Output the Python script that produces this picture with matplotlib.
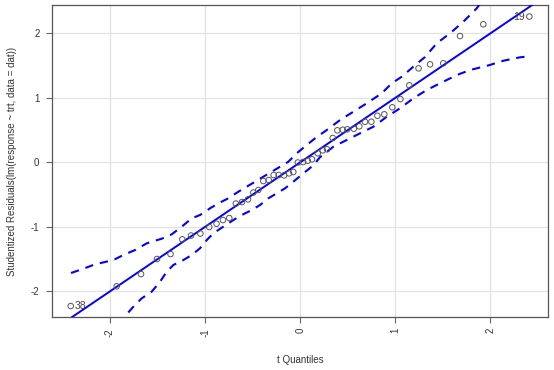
import matplotlib
matplotlib.use("Agg")
import matplotlib.pyplot as plt

plt.rcParams['font.family'] = ['Liberation Sans', 'DejaVu Sans']

# theoretical t quantiles
t_quant = [-2.413, -1.930, -1.674, -1.506, -1.364, -1.240, -1.148, -1.050, -0.957, -0.880,
           -0.812, -0.746, -0.677, -0.612, -0.549, -0.493, -0.441, -0.388, -0.331, -0.279,
           -0.226, -0.170, -0.118, -0.073, -0.025, 0.030, 0.079, 0.124, 0.184, 0.237,
           0.282, 0.342, 0.390, 0.447, 0.495, 0.563, 0.621, 0.681, 0.748, 0.811,
           0.884, 0.968, 1.053, 1.147, 1.244, 1.365, 1.504, 1.680, 1.925, 2.409]
# studentized residuals (sorted)
stud_res = [-2.228, -1.922, -1.732, -1.499, -1.422, -1.194, -1.135, -1.104, -1.003, -0.952,
            -0.895, -0.864, -0.639, -0.616, -0.574, -0.468, -0.429, -0.290, -0.274, -0.197,
            -0.197, -0.202, -0.171, -0.150, -0.003, 0.005, 0.025, 0.047, 0.140, 0.186,
            0.202, 0.377, 0.496, 0.505, 0.512, 0.521, 0.558, 0.629, 0.629, 0.722,
            0.744, 0.853, 0.981, 1.194, 1.457, 1.519, 1.535, 1.958, 2.140, 2.260]

# reference line
line_intercept = 0.0
line_slope = 1.0

# confidence envelope
upper_x = [-2.410, -2.298, -2.176, -2.087, -1.965, -1.860, -1.737, -1.614, -1.456, -1.351,
           -1.246, -1.141, -1.054, -0.948, -0.861, -0.756, -0.651, -0.563, -0.475, -0.388,
           -0.300, -0.212, -0.125, -0.037, 0.068, 0.156, 0.279, 0.419, 0.558, 0.699,
           0.857, 0.962, 1.067, 1.189, 1.312, 1.435, 1.575, 1.715, 1.856, 1.920]
upper_y = [-1.716, -1.659, -1.592, -1.557, -1.515, -1.437, -1.360, -1.256, -1.184, -1.116,
           -0.998, -0.868, -0.817, -0.713, -0.636, -0.558, -0.456, -0.378, -0.301, -0.223,
           -0.146, -0.068, 0.009, 0.140, 0.268, 0.372, 0.501, 0.656, 0.784, 0.915,
           1.070, 1.225, 1.327, 1.482, 1.633, 1.845, 2.000, 2.180, 2.388, 2.520]
lower_x = [-1.900, -1.850, -1.755, -1.667, -1.562, -1.474, -1.404, -1.334, -1.229, -1.141,
           -1.054, -0.983, -0.914, -0.809, -0.703, -0.615, -0.510, -0.423, -0.335, -0.247,
           -0.160, -0.073, 0.033, 0.135, 0.208, 0.348, 0.489, 0.629, 0.769, 0.910,
           1.049, 1.189, 1.330, 1.470, 1.646, 1.785, 1.975, 2.136, 2.311, 2.409]
lower_y = [-2.520, -2.398, -2.239, -2.109, -2.006, -1.851, -1.696, -1.592, -1.515, -1.437,
           -1.333, -1.205, -1.101, -0.998, -0.895, -0.817, -0.740, -0.662, -0.558, -0.481,
           -0.403, -0.301, -0.171, -0.050, 0.080, 0.242, 0.346, 0.450, 0.552, 0.707,
           0.837, 0.992, 1.121, 1.225, 1.353, 1.431, 1.501, 1.575, 1.628, 1.643]

point_labels = ["38", "19"]
ticks = [-2, -1, 0, 1, 2]
tick_labels = ["-2", "-1", "0", "1", "2"]

W, H = 554, 370
fig = plt.figure(figsize=(W / 100, H / 100), dpi=100)
ax = fig.add_axes([52 / W, 1 - 317 / H, 496 / W, 312 / H])
ax.set_xlim(-2.61, 2.605)
ax.set_ylim(-2.398, 2.439)

for t in ticks:
    ax.axvline(t, color='#e2e2e2', lw=0.9, zorder=0)
    ax.axhline(t, color='#e2e2e2', lw=0.9, zorder=0)

xs = [ax.get_xlim()[0], ax.get_xlim()[1]]
ax.plot(xs, [line_intercept + line_slope * v for v in xs], color='#0000ff', lw=1.4, zorder=3)
ax.plot(upper_x, upper_y, color='#0000ff', lw=1.5, ls=(0, (4, 3.3)), zorder=3)
ax.plot(lower_x, lower_y, color='#0000ff', lw=1.5, ls=(0, (4, 3.3)), zorder=3)

ax.scatter(t_quant, stud_res, s=16, facecolors='none', edgecolors='#555555',
           linewidths=0.7, zorder=4)

ax.annotate(point_labels[0], (t_quant[0], stud_res[0]), xytext=(3, 0),
            textcoords='offset points', ha='left', va='center', fontsize=7.5, color='#444444')
ax.annotate(point_labels[1], (t_quant[-1], stud_res[-1]), xytext=(-3, 0),
            textcoords='offset points', ha='right', va='center', fontsize=7.5, color='#444444')

ax.set_xticks(ticks)
ax.set_xticklabels(tick_labels, rotation=90)
ax.set_yticks(ticks)
ax.set_yticklabels(tick_labels)
ax.tick_params(axis='both', length=4, width=0.8, color='#666666', labelsize=7,
               labelcolor='#333333')
ax.tick_params(axis='y', pad=5)
ax.tick_params(axis='x', pad=4)
for sp in ax.spines.values():
    sp.set_color('#555555')
    sp.set_linewidth(0.9)

fig.text(12.5 / W, 1 - 161 / H, 'Studentized Residuals(lm(response ~ trt, data = dat))',
         rotation=90, ha='center', va='center', fontsize=7, color='#333333')
fig.text(300 / W, 1 - 360 / H, 't Quantiles', ha='center', va='center',
         fontsize=7, color='#333333')

fig.savefig('out.png', dpi=100)
